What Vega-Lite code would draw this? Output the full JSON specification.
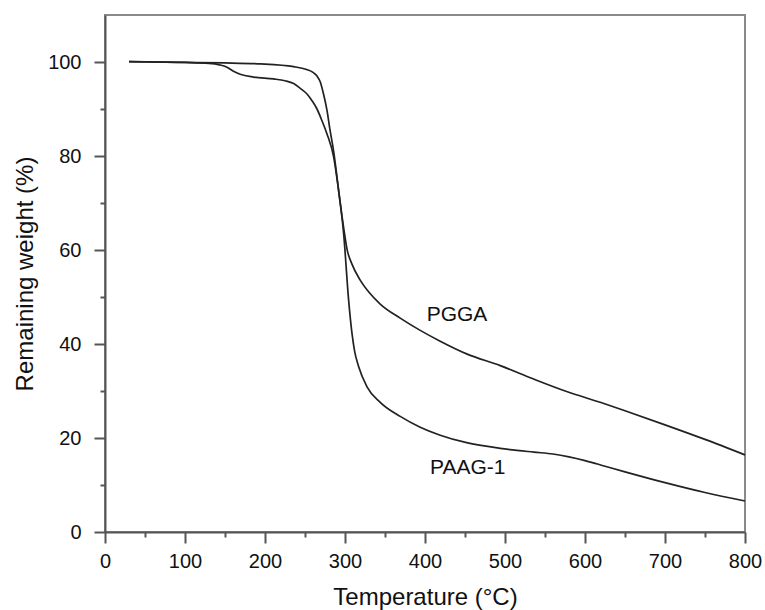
{
  "$schema": "https://vega.github.io/schema/vega-lite/v6.json",
  "autosize": "none",
  "width": 640,
  "height": 517,
  "padding": {"left": 105, "top": 15, "right": 20, "bottom": 78},
  "background": "white",
  "config": {
    "font": "Liberation Sans",
    "view": {"stroke": "#8a8a8a", "strokeWidth": 2},
    "axis": {
      "grid": false,
      "domainColor": "#555555",
      "domainWidth": 2,
      "tickColor": "#555555",
      "tickWidth": 2,
      "labelFont": "Liberation Sans",
      "labelFontSize": 20,
      "labelColor": "#111111",
      "titleFont": "Liberation Sans",
      "titleFontSize": 24,
      "titleFontWeight": "normal",
      "titleColor": "#111111"
    }
  },
  "datasets": {
    "tga": [
      {"series": "PGGA", "temp": 30, "weight": 100.1},
      {"series": "PGGA", "temp": 60, "weight": 100.0},
      {"series": "PGGA", "temp": 100, "weight": 99.9},
      {"series": "PGGA", "temp": 130, "weight": 99.7},
      {"series": "PGGA", "temp": 143, "weight": 99.4},
      {"series": "PGGA", "temp": 152.5, "weight": 98.9},
      {"series": "PGGA", "temp": 160, "weight": 98.1},
      {"series": "PGGA", "temp": 169, "weight": 97.4},
      {"series": "PGGA", "temp": 185.8, "weight": 96.8},
      {"series": "PGGA", "temp": 210.8, "weight": 96.4},
      {"series": "PGGA", "temp": 225, "weight": 96.0},
      {"series": "PGGA", "temp": 235.8, "weight": 95.4},
      {"series": "PGGA", "temp": 244, "weight": 94.4},
      {"series": "PGGA", "temp": 252.5, "weight": 93.2},
      {"series": "PGGA", "temp": 259, "weight": 91.7},
      {"series": "PGGA", "temp": 265, "weight": 90.0},
      {"series": "PGGA", "temp": 271, "weight": 87.6},
      {"series": "PGGA", "temp": 277.5, "weight": 84.7},
      {"series": "PGGA", "temp": 285.8, "weight": 79.8},
      {"series": "PGGA", "temp": 292, "weight": 72.7},
      {"series": "PGGA", "temp": 296, "weight": 67.5},
      {"series": "PGGA", "temp": 298.5, "weight": 64.5},
      {"series": "PGGA", "temp": 302.5, "weight": 60.2},
      {"series": "PGGA", "temp": 308.7, "weight": 57.0},
      {"series": "PGGA", "temp": 319, "weight": 53.6},
      {"series": "PGGA", "temp": 330, "weight": 51.0},
      {"series": "PGGA", "temp": 344, "weight": 48.5},
      {"series": "PGGA", "temp": 369, "weight": 45.5},
      {"series": "PGGA", "temp": 394, "weight": 42.9},
      {"series": "PGGA", "temp": 419, "weight": 40.6},
      {"series": "PGGA", "temp": 452, "weight": 37.9},
      {"series": "PGGA", "temp": 494, "weight": 35.4},
      {"series": "PGGA", "temp": 535, "weight": 32.6},
      {"series": "PGGA", "temp": 577, "weight": 29.9},
      {"series": "PGGA", "temp": 619, "weight": 27.6},
      {"series": "PGGA", "temp": 650, "weight": 25.8},
      {"series": "PGGA", "temp": 700, "weight": 22.8},
      {"series": "PGGA", "temp": 750, "weight": 19.7},
      {"series": "PGGA", "temp": 800, "weight": 16.4},
      {"series": "PAAG-1", "temp": 30, "weight": 100.1},
      {"series": "PAAG-1", "temp": 100, "weight": 99.9},
      {"series": "PAAG-1", "temp": 150, "weight": 99.8},
      {"series": "PAAG-1", "temp": 194, "weight": 99.6},
      {"series": "PAAG-1", "temp": 236, "weight": 99.0},
      {"series": "PAAG-1", "temp": 252, "weight": 98.4},
      {"series": "PAAG-1", "temp": 260, "weight": 97.8},
      {"series": "PAAG-1", "temp": 265, "weight": 97.0},
      {"series": "PAAG-1", "temp": 269, "weight": 95.8},
      {"series": "PAAG-1", "temp": 273, "weight": 93.3},
      {"series": "PAAG-1", "temp": 277.5, "weight": 89.7},
      {"series": "PAAG-1", "temp": 281, "weight": 85.8},
      {"series": "PAAG-1", "temp": 285.8, "weight": 81.0},
      {"series": "PAAG-1", "temp": 292, "weight": 72.7},
      {"series": "PAAG-1", "temp": 298.3, "weight": 63.5},
      {"series": "PAAG-1", "temp": 304.5, "weight": 49.4},
      {"series": "PAAG-1", "temp": 308.7, "weight": 42.3},
      {"series": "PAAG-1", "temp": 312, "weight": 38.5},
      {"series": "PAAG-1", "temp": 317, "weight": 35.2},
      {"series": "PAAG-1", "temp": 327.5, "weight": 30.9},
      {"series": "PAAG-1", "temp": 344, "weight": 27.6},
      {"series": "PAAG-1", "temp": 369, "weight": 24.6},
      {"series": "PAAG-1", "temp": 394, "weight": 22.3},
      {"series": "PAAG-1", "temp": 419, "weight": 20.6},
      {"series": "PAAG-1", "temp": 452, "weight": 19.0},
      {"series": "PAAG-1", "temp": 494, "weight": 17.8},
      {"series": "PAAG-1", "temp": 536, "weight": 17.0},
      {"series": "PAAG-1", "temp": 560, "weight": 16.6},
      {"series": "PAAG-1", "temp": 580, "weight": 16.0},
      {"series": "PAAG-1", "temp": 600, "weight": 15.2},
      {"series": "PAAG-1", "temp": 625, "weight": 14.0},
      {"series": "PAAG-1", "temp": 650, "weight": 12.8},
      {"series": "PAAG-1", "temp": 700, "weight": 10.5},
      {"series": "PAAG-1", "temp": 750, "weight": 8.4},
      {"series": "PAAG-1", "temp": 800, "weight": 6.6}
    ],
    "labels": [
      {"text": "PGGA", "temp": 440, "weight": 46.2},
      {"text": "PAAG-1", "temp": 453.5, "weight": 13.7}
    ]
  },
  "encoding": {
    "x": {
      "field": "temp",
      "type": "quantitative",
      "scale": {"domain": [0, 800], "nice": false, "zero": false},
      "axis": {
        "title": "Temperature (°C)",
        "values": [0, 50, 100, 150, 200, 250, 300, 350, 400, 450, 500, 550, 600, 650, 700, 750, 800],
        "labelExpr": "datum.value % 100 === 0 ? datum.label : ''",
        "tickSize": {"condition": {"test": "datum.value % 100 === 0", "value": 11}, "value": 5},
        "labelPadding": 8,
        "titlePadding": 14,
        "labelFlush": false,
        "labelOverlap": false
      }
    },
    "y": {
      "field": "weight",
      "type": "quantitative",
      "scale": {"domain": [0, 110], "nice": false, "zero": false},
      "axis": {
        "title": "Remaining weight (%)",
        "values": [0, 10, 20, 30, 40, 50, 60, 70, 80, 90, 100],
        "labelExpr": "datum.value % 20 === 0 ? datum.label : ''",
        "tickSize": {"condition": {"test": "datum.value % 20 === 0", "value": 11}, "value": 5},
        "labelPadding": 13,
        "titlePadding": 10,
        "labelFlush": false,
        "labelOverlap": false
      }
    }
  },
  "layer": [
    {
      "data": {"name": "tga"},
      "mark": {"type": "line", "interpolate": "monotone", "color": "#222222", "strokeWidth": 1.7},
      "encoding": {"detail": {"field": "series"}}
    },
    {
      "data": {"name": "labels"},
      "mark": {"type": "text", "fontSize": 21, "color": "#111111", "align": "center", "baseline": "middle", "font": "Liberation Sans"},
      "encoding": {"text": {"field": "text"}}
    }
  ]
}
